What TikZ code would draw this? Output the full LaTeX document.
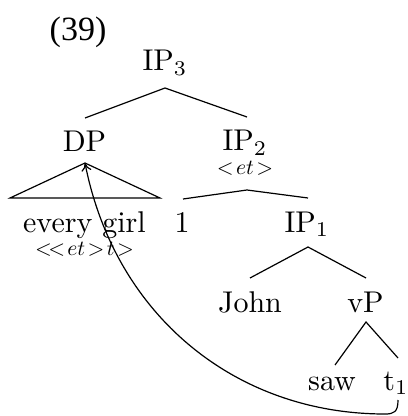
\documentclass[tikz,border=0pt]{standalone}
\usepackage{fontspec}
\newfontfamily\exfont{Liberation Serif}
\usetikzlibrary{arrows.meta}
\begin{document}
\begin{tikzpicture}[x=0.5pt,y=-0.5pt,
  lbl/.style={anchor=base,inner sep=0pt,font=\normalsize,scale=1.5,transform shape},
  typ/.style={anchor=base,inner sep=0pt,font=\normalsize,scale=1.08,transform shape},
  br/.style={line width=0.6pt}]
\useasboundingbox (0,0) rectangle (407,416);
\node[anchor=base,inner sep=0pt,font=\exfont\fontsize{17}{20}\selectfont] (ex) at (78,41) {(39)};
\node[lbl] (ip3) at (165,71) {IP$_3$};
\node[lbl] (dp) at (84.5,152) {DP};
\node[lbl] (ip2) at (245,151) {IP$_2$};
\node[typ] (et) at (245,175) {$<\!et\!>$};
\node[lbl] (eg) at (84.5,232) {every girl};
\node[typ] (etet) at (84.5,255) {$<\!<\!et\!>\!t\!>$};
\node[lbl] (one) at (182,232) {1};
\node[lbl] (ip1) at (307,232) {IP$_1$};
\node[lbl] (john) at (250,312) {John};
\node[lbl] (vp) at (365.5,312) {vP};
\node[lbl] (saw) at (332,390) {saw};
\node[lbl] (t1) at (396,390) {t$_1$};
% edge endpoints
\coordinate (ip3b) at (165,88);
\coordinate (dpt) at (85,118);
\coordinate (ip2t) at (247,117);
\coordinate (dpb) at (85,163);
\coordinate (trl) at (10,198);
\coordinate (trr) at (160,198);
\coordinate (ip2b) at (247,190);
\coordinate (onet) at (183,199);
\coordinate (ip1t) at (308,198);
\coordinate (ip1b) at (308,247);
\coordinate (johnt) at (250,278);
\coordinate (vpt) at (366,278);
\coordinate (vpb) at (366,322);
\coordinate (sawt) at (335,365);
\coordinate (t1t) at (398,358);
\coordinate (t1b) at (398,400);
\coordinate (hook) at (385,414);
\draw[br] (dpt) -- (ip3b) -- (ip2t);
\draw[br] (trl) -- (dpb) -- (trr) -- cycle;
\draw[br] (onet) -- (ip2b) -- (ip1t);
\draw[br] (johnt) -- (ip1b) -- (vpt);
\draw[br] (sawt) -- (vpb) -- (t1t);
\draw[br,-{To[length=4pt,width=5pt]}] (t1b) .. controls (398,412) and (394,414) .. (hook)
  .. controls (235,414) and (115,315) .. (dpb);
\end{tikzpicture}
\end{document}
